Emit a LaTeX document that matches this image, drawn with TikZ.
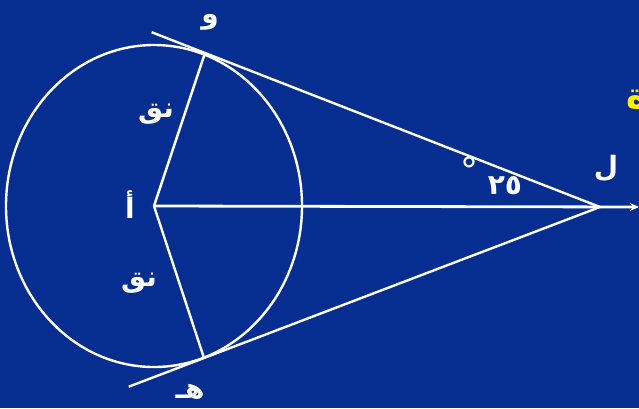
\documentclass[tikz,border=0pt]{standalone}
\usepackage{fontspec}
\usepackage{xcolor}
\usepackage{tikz}
\usetikzlibrary{arrows.meta,positioning,calc}
\TeXXeTstate=1
\newfontfamily\arabicfont[Script=Arabic]{DejaVu Sans}
\definecolor{slidebg}{RGB}{6,46,144}
\definecolor{titleyellow}{RGB}{255,240,0}

\begin{document}
\begin{tikzpicture}[
    x=1pt, y=-1pt,
    ln/.style={draw=white, line width=2.4pt},
    lbl/.style={text=white, font=\arabicfont\bfseries\fontsize{28}{32}\selectfont, inner sep=0pt},
    arr/.style={-{Stealth[length=9pt,width=8pt]}, draw=white, line width=2.8pt}
]
    \fill [slidebg] (0,0) rectangle (639,408);
    \useasboundingbox (0,0) rectangle (639,408);

    \coordinate (A) at (154,206);
    \coordinate (W) at (205,53);
    \coordinate (H) at (204,358);
    \coordinate (L) at (600,207);
    \coordinate (end) at (639,207);
    \coordinate (wfar) at ($(L)!1.135!(W)$);
    \coordinate (hfar) at ($(L)!1.19!(H)$);

    % circle and radii
    \draw [ln] (A) ellipse [x radius=148, y radius=161];
    \draw [ln] (A) -- (W);
    \draw [ln] (A) -- (H);

    % tangents from L
    \draw [ln] (wfar) -- (L);
    \draw [ln] (hfar) -- (L);
    \draw [arr] (A) -- (end);

    % labels
    \node [lbl] (lw) at (210,22) {\beginR و\endR};
    \node [lbl] (lh) at (190,392) {\beginR هـ\endR};
    \node [lbl] (la) at (130,205) {\beginR أ\endR};
    \node [lbl] (ll) at (606,168) {\beginR ل\endR};
    \node [lbl] (r1) at (156,114) {\beginR نق\endR};
    \node [lbl] (r2) at (139,283) {\beginR نق\endR};
    \node [lbl] (ang) at (505,186) {٢٥};
    \node [lbl, font=\arabicfont\fontsize{36}{40}\selectfont] (deg) at (469,170) {°};

    % clipped title text at the edge
    \node [text=titleyellow, font=\arabicfont\bfseries\fontsize{36}{40}\selectfont, inner sep=0pt, anchor=west] (ttl) at (626,100) {\beginR ة\endR};
\end{tikzpicture}
\end{document}
